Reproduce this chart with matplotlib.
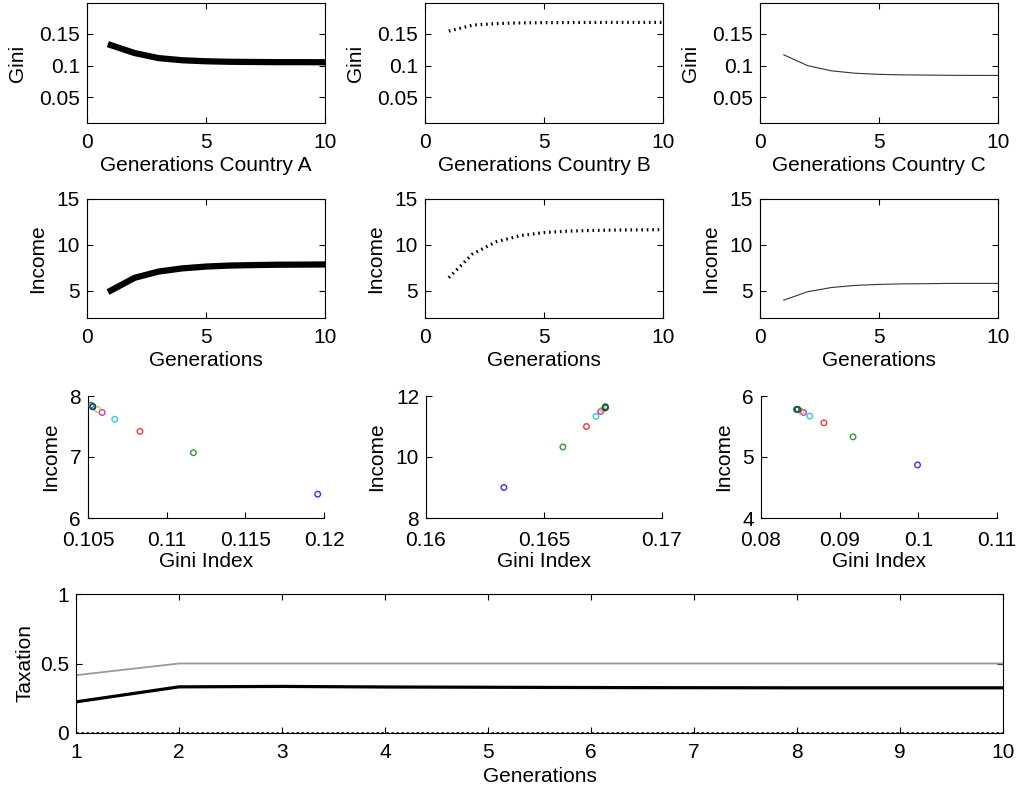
import matplotlib
matplotlib.use("Agg")
import matplotlib.pyplot as plt

plt.rcParams['font.family'] = ['Liberation Sans', 'DejaVu Sans']
plt.rcParams['font.size'] = 15

# data
generations = [1, 2, 3, 4, 5, 6, 7, 8, 9, 10]

gini_a = [0.132, 0.1196, 0.1117, 0.1083, 0.1067, 0.1059, 0.1056, 0.1053, 0.1053, 0.1052]
gini_b = [0.154, 0.1633, 0.1658, 0.1668, 0.1672, 0.1674, 0.1675, 0.1676, 0.1676, 0.1676]
gini_c = [0.1168, 0.0999, 0.0917, 0.0880, 0.0862, 0.0854, 0.0851, 0.0847, 0.0846, 0.0845]

income_a = [5.0, 6.39, 7.07, 7.42, 7.62, 7.73, 7.78, 7.82, 7.83, 7.85]
income_b = [6.4, 9.0, 10.33, 11.0, 11.33, 11.49, 11.56, 11.61, 11.63, 11.65]
income_c = [3.95, 4.87, 5.33, 5.56, 5.67, 5.73, 5.75, 5.78, 5.78, 5.78]

tax_a = [0.224, 0.332, 0.335, 0.331, 0.329, 0.327, 0.326, 0.325, 0.325, 0.325]
tax_b = [0, 0, 0, 0, 0, 0, 0, 0, 0, 0]
tax_c = [0.416, 0.5, 0.5, 0.5, 0.5, 0.5, 0.5, 0.5, 0.5, 0.5]

countries = ["A", "B", "C"]
gini_all = [gini_a, gini_b, gini_c]
income_all = [income_a, income_b, income_c]

# matlab colour order used by the scatter points (generations 2..10)
cores = [(0, 0, 1), (0, 0.5, 0), (1, 0, 0), (0, 0.75, 0.75), (0.75, 0, 0.75),
         (0.75, 0.75, 0), (0.25, 0.25, 0.25), (0, 0, 1), (0, 0.5, 0)]

estilos = [dict(color='black', lw=4.5, ls='-'),
           dict(color='black', lw=2.3, ls=(0, (0.5, 1.2))),
           dict(color='#333333', lw=0.8, ls='-')]

scatter_xlim = [(0.105, 0.12), (0.16, 0.17), (0.08, 0.11)]
scatter_xticks = [[0.105, 0.11, 0.115, 0.12], [0.16, 0.165, 0.17], [0.08, 0.09, 0.1, 0.11]]
scatter_xlabels = [["0.105", "0.11", "0.115", "0.12"], ["0.16", "0.165", "0.17"],
                   ["0.08", "0.09", "0.1", "0.11"]]
scatter_ylim = [(6, 8), (8, 12), (4, 6)]
scatter_yticks = [[6, 7, 8], [8, 10, 12], [4, 5, 6]]

W, H = 1025, 793
fig = plt.figure(figsize=(W / 100, H / 100), dpi=100)


def eixo(l, t, r, b):
    return fig.add_axes([l / W, 1 - b / H, (r - l) / W, (b - t) / H])


def estilo_matlab(ax, box=True, xpad=7):
    ax.tick_params(direction='in', length=4, width=0.8, labelsize=15)
    ax.tick_params(axis='x', pad=xpad)
    ax.tick_params(axis='y', pad=5)
    if box:
        ax.tick_params(top=True, right=True)
    else:
        ax.spines['top'].set_visible(False)
        ax.spines['right'].set_visible(False)
    for s in ax.spines.values():
        s.set_linewidth(0.8)


lefts = [87, 425, 760]
width = 238

for i in range(3):
    l = lefts[i]
    # Gini
    ax = eixo(l, 3, l + width, 123)
    ax.plot(generations, gini_all[i], **estilos[i])
    ax.set_xlim(0, 10)
    ax.set_ylim(0.01, 0.198)
    ax.set_xticks([0, 5, 10])
    ax.set_yticks([0.05, 0.1, 0.15])
    ax.set_yticklabels(["0.05", "0.1", "0.15"])
    ax.set_xlabel("Generations Country " + countries[i], labelpad=3)
    ax.set_ylabel("Gini", labelpad=9)
    estilo_matlab(ax)

    # Income
    ax = eixo(l, 199, l + width, 318)
    ax.plot(generations, income_all[i], **estilos[i])
    ax.set_xlim(0, 10)
    ax.set_ylim(2, 15)
    ax.set_xticks([0, 5, 10])
    ax.set_yticks([5, 10, 15])
    ax.set_xlabel("Generations", labelpad=3)
    ax.set_ylabel("Income", labelpad=7)
    estilo_matlab(ax)

    # Income x Gini
    ax = eixo(l + 1, 396, l + width - 1, 518)
    ax.scatter(gini_all[i][1:], income_all[i][1:], s=16, facecolors='none',
               edgecolors=cores, linewidths=1.0, alpha=0.8, zorder=3)
    ax.set_xlim(*scatter_xlim[i])
    ax.set_ylim(*scatter_ylim[i])
    ax.set_xticks(scatter_xticks[i])
    ax.set_xticklabels(scatter_xlabels[i])
    ax.set_yticks(scatter_yticks[i])
    ax.set_xlabel("Gini Index", labelpad=2)
    ax.set_ylabel("Income", labelpad=7)
    estilo_matlab(ax, box=False, xpad=9)

# Taxation
ax = eixo(76, 594, 1003, 733)
ax.plot(generations, tax_c, color='#999999', lw=1.3)
ax.plot(generations, tax_a, color='black', lw=2.3)
ax.plot(generations, tax_b, color='black', lw=1.8, ls=(0, (1, 1)))
ax.set_xlim(1, 10)
ax.set_ylim(0, 1)
ax.set_xticks(generations)
ax.set_yticks([0, 0.5, 1])
ax.set_yticklabels(["0", "0.5", "1"])
ax.set_xlabel("Generations", labelpad=4)
ax.set_ylabel("Taxation", labelpad=4)
estilo_matlab(ax)

fig.savefig("out.png", dpi=100)
